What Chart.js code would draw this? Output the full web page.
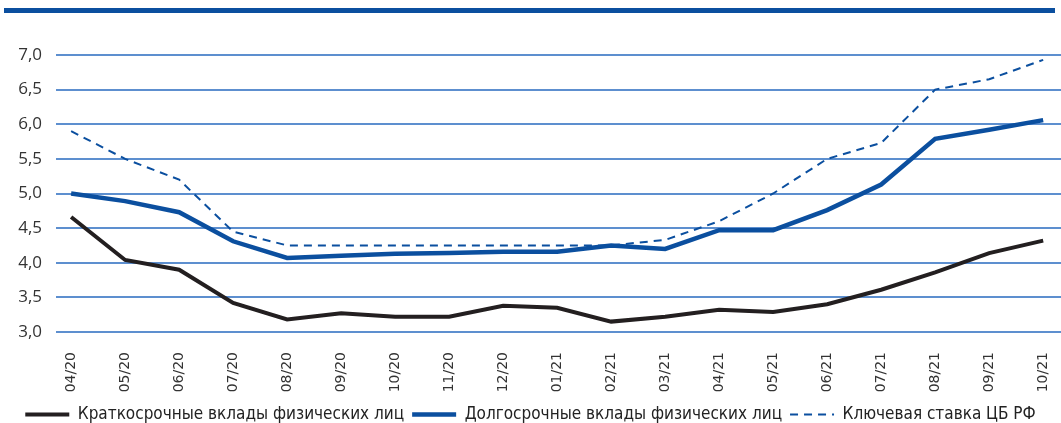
<!DOCTYPE html>
<html><head><meta charset="utf-8">
<script src="https://cdn.jsdelivr.net/npm/chart.js@4.4.1/dist/chart.umd.min.js"></script>
<style>
html,body{margin:0;padding:0;background:#fff;}
#wrap{position:relative;width:1061px;height:423px;overflow:hidden;}
#bar{position:absolute;left:4px;top:8px;width:1051px;height:5px;background:#0b4f9f;}
</style></head>
<body><div id="wrap"><div id="bar"></div><canvas id="c" width="1061" height="423"></canvas></div>
<script>
const categories = ['04/20','05/20','06/20','07/20','08/20','09/20','10/20','11/20','12/20','01/21','02/21','03/21','04/21','05/21','06/21','07/21','08/21','09/21','10/21'];
const shortTerm = [4.66,4.04,3.90,3.42,3.18,3.27,3.22,3.22,3.38,3.35,3.15,3.22,3.32,3.29,3.40,3.61,3.86,4.14,4.32];
const longTerm = [5.00,4.89,4.73,4.31,4.07,4.10,4.13,4.14,4.16,4.16,4.25,4.20,4.47,4.47,4.76,5.13,5.79,5.92,6.06];
const keyRate = [5.90,5.50,5.20,4.45,4.25,4.25,4.25,4.25,4.25,4.25,4.25,4.33,4.60,5.00,5.50,5.73,6.50,6.65,6.93];
const seriesNames = ['Краткосрочные вклады физических лиц','Долгосрочные вклады физических лиц','Ключевая ставка ЦБ РФ'];
const yTicks = [3.0,3.5,4.0,4.5,5.0,5.5,6.0,6.5,7.0];

const toXY = arr => arr.map((v,i)=>({x:i,y:v}));
new Chart(document.getElementById('c'), {
  type:'line',
  data:{datasets:[
    {label:seriesNames[0],data:toXY(shortTerm),borderColor:'#231f20',backgroundColor:'#231f20',borderWidth:4,pointRadius:0,tension:0,pointStyle:'line'},
    {label:seriesNames[1],data:toXY(longTerm),borderColor:'#0b4f9f',backgroundColor:'#0b4f9f',borderWidth:4.5,pointRadius:0,tension:0,pointStyle:'line'},
    {label:seriesNames[2],data:toXY(keyRate),borderColor:'#0b4f9f',backgroundColor:'#0b4f9f',borderWidth:2,borderDash:[8,6],pointRadius:0,tension:0,pointStyle:'line'}
  ]},
  options:{
    responsive:false,animation:false,
    layout:{padding:{top:55,left:0,right:0,bottom:-10}},
    plugins:{
      legend:{position:'bottom',align:'center',
        labels:{usePointStyle:true,pointStyleWidth:44,padding:8,color:'#222',
          font:{family:'"DejaVu Sans Condensed", "DejaVu Sans"',size:17},
          generateLabels:(chart)=>{
            const items = Chart.defaults.plugins.legend.labels.generateLabels(chart);
            items.forEach((it,i)=>{
              const ds = chart.data.datasets[i];
              it.lineWidth = ds.borderWidth;
              it.strokeStyle = ds.borderColor;
              it.lineDash = ds.borderDash || [];
              it.pointStyle = 'line';
            });
            return items;
          }}},
      tooltip:{enabled:false}
    },
    scales:{
      x:{type:'linear',min:-0.28,max:18.33,
        afterBuildTicks:ax=>{ax.ticks=categories.map((c,i)=>({value:i}));},
        afterFit:ax=>{ax.height=66;ax.paddingLeft=0;ax.paddingRight=0;},
        ticks:{callback:(v)=>categories[v],maxRotation:90,minRotation:90,autoSkip:false,color:'#333',
          font:{family:'"DejaVu Sans"',size:14},padding:12},
        grid:{display:false},border:{display:false}},
      y:{min:3,max:7,
        afterBuildTicks:ax=>{ax.ticks=yTicks.map(v=>({value:v}));},
        afterFit:ax=>{ax.width=56;},
        ticks:{callback:v=>v.toFixed(1).replace('.',','),color:'#333',padding:14,
          font:{family:'"Open Sans"',size:17}},
        grid:{color:'#5d8fcf',lineWidth:2,drawTicks:false},border:{display:false}}
    }
  }
});
</script></body></html>
